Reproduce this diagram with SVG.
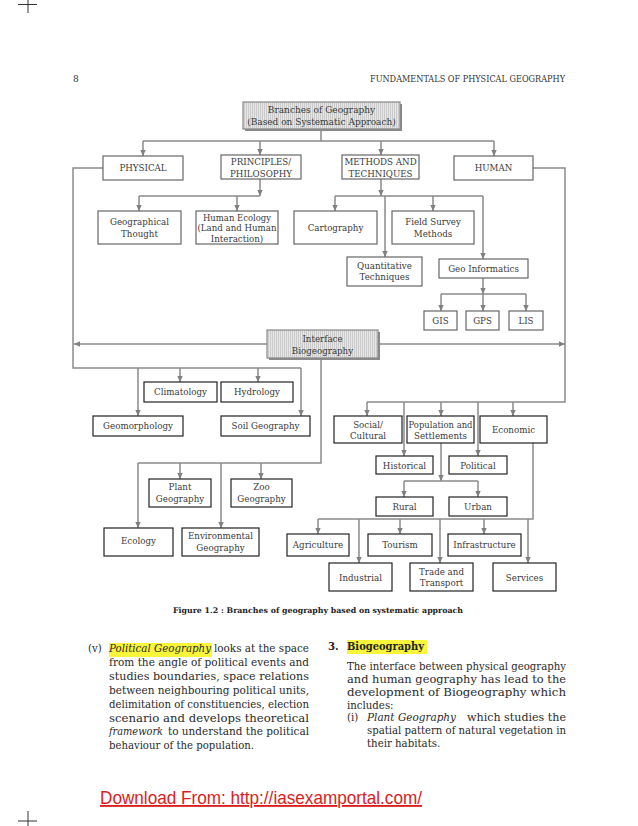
<svg xmlns="http://www.w3.org/2000/svg" width="638" height="826" viewBox="0 0 638 826">
<defs>
<pattern id="hatch" width="2" height="4" patternUnits="userSpaceOnUse">
<rect width="2" height="4" fill="#e6e6e6"/>
<rect width="0.8" height="4" fill="#c4c4c4"/>
</pattern>
<marker id="ah" markerWidth="6" markerHeight="6" refX="6" refY="3" orient="auto" markerUnits="userSpaceOnUse">
<path d="M0,0.3 L6,3 L0,5.7 z" fill="#808080"/>
</marker>
<style>
.bx{fill:#fff;stroke:#666;stroke-width:1.2}
.bk{fill:#fff;stroke:#222;stroke-width:1.2}
.hb{fill:url(#hatch);stroke:#888;stroke-width:1.2}
.sh{fill:#8a8a8a}
.t{font-family:"DejaVu Serif",serif;font-size:8.7px;fill:#3a3a3a;text-anchor:middle}
.c path{fill:none;stroke:#8a8a8a;stroke-width:1.5}
.c .a{marker-end:url(#ah)}
.b{font-family:"DejaVu Serif",serif;font-size:10.2px;fill:#2a2a2a}
.i{font-style:italic}
.crop{stroke:#333;stroke-width:1}
</style>
</defs>
<rect width="638" height="826" fill="#fff"/>
<!-- crop marks -->
<path class="crop" d="M18,4.5 H37 M28,0 V13 M18,821 H37 M28,811 V826"/>
<!-- header -->
<text x="73" y="82" style="font-family:'DejaVu Serif',serif;font-size:9px;fill:#333">8</text>
<text x="370" y="82" textLength="195" lengthAdjust="spacingAndGlyphs" style="font-family:'DejaVu Serif',serif;font-size:8.4px;fill:#333">FUNDAMENTALS OF PHYSICAL GEOGRAPHY</text>

<g class="c" id="connectors">
<path d="M321,129 V141 M143,141 H494"/>
<path class="a" d="M143,141 V156"/>
<path class="a" d="M260,141 V155"/>
<path class="a" d="M381,141 V155"/>
<path class="a" d="M494,141 V156"/>
<path d="M103,168 H73 V368 H301"/>
<path class="a" d="M138,368 V416"/>
<path class="a" d="M180,368 V382"/>
<path class="a" d="M258,368 V382"/>
<path class="a" d="M301,368 V416"/>
<path class="a" d="M267,344 H74"/>
<path class="a" d="M378,344 H565"/>
<path d="M533,168 H565 V402 H367"/>
<path class="a" d="M367,402 V416"/>
<path class="a" d="M441,402 V416"/>
<path class="a" d="M513,402 V416"/>
<path class="a" d="M404,402 V456"/>
<path class="a" d="M478,402 V456"/>
<path class="a" d="M260,179 V196"/>
<path d="M139,196 H260"/>
<path class="a" d="M139,196 V211"/>
<path class="a" d="M237,196 V211"/>
<path class="a" d="M381,179 V196"/>
<path d="M335,196 H483"/>
<path class="a" d="M335,196 V211"/>
<path class="a" d="M385,196 V257"/>
<path class="a" d="M433,196 V211"/>
<path class="a" d="M483,196 V259"/>
<path class="a" d="M483,278 V294"/>
<path d="M441,294 H526"/>
<path class="a" d="M441,294 V311"/>
<path class="a" d="M483,294 V311"/>
<path class="a" d="M526,294 V311"/>
<path d="M321,358 V463 H138"/>
<path class="a" d="M138,463 V528"/>
<path class="a" d="M180,463 V479"/>
<path class="a" d="M221,463 V528"/>
<path class="a" d="M261,463 V479"/>
<path class="a" d="M441,443 V481"/>
<path d="M404,481 H478"/>
<path class="a" d="M404,481 V497"/>
<path class="a" d="M478,481 V497"/>
<path d="M533,443 V519 H318"/>
<path class="a" d="M318,519 V534"/>
<path class="a" d="M359,519 V563"/>
<path class="a" d="M400,519 V534"/>
<path class="a" d="M440,519 V563"/>
<path class="a" d="M484,519 V534"/>
<path class="a" d="M528,519 V563"/>
</g>

<g id="root">
<rect class="sh" x="245" y="104" width="157" height="27"/>
<rect class="hb" x="243" y="102" width="157" height="27"/>
<text class="t" x="321.5" y="113" style="font-size:9px">Branches of Geography</text>
<text class="t" x="321.5" y="124.5" style="font-size:9px">(Based on Systematic Approach)</text>
</g>
<g id="physical"><rect class="bx" x="103" y="156" width="80" height="24"/><text class="t" x="143" y="171">PHYSICAL</text></g>
<g id="principles"><rect class="bx" x="221" y="155" width="80" height="24"/><text class="t" x="261" y="165">PRINCIPLES/</text><text class="t" x="261" y="176.5">PHILOSOPHY</text></g>
<g id="methods"><rect class="bx" x="342" y="155" width="77" height="24"/><text class="t" x="380.5" y="165">METHODS AND</text><text class="t" x="380.5" y="176.5">TECHNIQUES</text></g>
<g id="human"><rect class="bx" x="454" y="156" width="79" height="24"/><text class="t" x="493.5" y="171">HUMAN</text></g>

<g id="geo-thought"><rect class="bx" x="98" y="211" width="83" height="33"/><text class="t" x="139.5" y="225">Geographical</text><text class="t" x="139.5" y="236.5">Thought</text></g>
<g id="human-ecology"><rect class="bx" x="196" y="211" width="82" height="33"/><text class="t" x="237" y="220.5" textLength="68" lengthAdjust="spacingAndGlyphs">Human Ecology</text><text class="t" x="237" y="231" textLength="79" lengthAdjust="spacingAndGlyphs">(Land and Human</text><text class="t" x="237" y="241.5">Interaction)</text></g>
<g id="cartography"><rect class="bx" x="294" y="211" width="83" height="33"/><text class="t" x="335.5" y="231">Cartography</text></g>
<g id="field-survey"><rect class="bx" x="392" y="211" width="82" height="33"/><text class="t" x="433" y="225">Field Survey</text><text class="t" x="433" y="236.5">Methods</text></g>
<g id="quantitative"><rect class="bx" x="347" y="257" width="75" height="29"/><text class="t" x="384.5" y="269">Quantitative</text><text class="t" x="384.5" y="280">Techniques</text></g>
<g id="geo-informatics"><rect class="bx" x="439" y="259" width="89" height="19"/><text class="t" x="483.5" y="271.5">Geo Informatics</text></g>
<g id="gis"><rect class="bx" x="424" y="311" width="33" height="19"/><text class="t" x="440.5" y="323.5">GIS</text></g>
<g id="gps"><rect class="bx" x="466" y="311" width="33" height="19"/><text class="t" x="482.5" y="323.5">GPS</text></g>
<g id="lis"><rect class="bx" x="509" y="311" width="34" height="19"/><text class="t" x="526" y="323.5">LIS</text></g>

<g id="interface">
<rect class="sh" x="269" y="332" width="111" height="28"/>
<rect class="hb" x="267" y="330" width="111" height="28"/>
<text class="t" x="322.5" y="342">Interface</text>
<text class="t" x="322.5" y="353.5">Biogeography</text>
</g>

<g id="climatology"><rect class="bk" x="144" y="382" width="73" height="20"/><text class="t" x="180.5" y="395">Climatology</text></g>
<g id="hydrology"><rect class="bk" x="221" y="382" width="72" height="20"/><text class="t" x="257" y="395">Hydrology</text></g>
<g id="geomorphology"><rect class="bk" x="93" y="416" width="90" height="20"/><text class="t" x="138" y="429">Geomorphology</text></g>
<g id="soil"><rect class="bk" x="221" y="416" width="89" height="20"/><text class="t" x="265.5" y="429">Soil Geography</text></g>

<g id="social"><rect class="bk" x="334" y="416" width="68" height="27"/><text class="t" x="368" y="427.5">Social/</text><text class="t" x="368" y="439">Cultural</text></g>
<g id="population"><rect class="bk" x="407" y="416" width="67" height="27"/><text class="t" x="440.5" y="427.5" textLength="64" lengthAdjust="spacingAndGlyphs">Population and</text><text class="t" x="440.5" y="439">Settlements</text></g>
<g id="economic"><rect class="bk" x="480" y="416" width="67" height="27"/><text class="t" x="513.5" y="433">Economic</text></g>
<g id="historical"><rect class="bk" x="376" y="456" width="57" height="18"/><text class="t" x="404.5" y="468.5">Historical</text></g>
<g id="political"><rect class="bk" x="449" y="456" width="58" height="18"/><text class="t" x="478" y="468.5">Political</text></g>
<g id="rural"><rect class="bk" x="376" y="497" width="57" height="19"/><text class="t" x="404.5" y="509.5">Rural</text></g>
<g id="urban"><rect class="bk" x="449" y="497" width="58" height="19"/><text class="t" x="478" y="509.5">Urban</text></g>

<g id="plant"><rect class="bk" x="149" y="479" width="62" height="28"/><text class="t" x="180" y="490">Plant</text><text class="t" x="180" y="501.5">Geography</text></g>
<g id="zoo"><rect class="bk" x="231" y="479" width="61" height="28"/><text class="t" x="261.5" y="490">Zoo</text><text class="t" x="261.5" y="501.5">Geography</text></g>
<g id="ecology"><rect class="bk" x="104" y="528" width="69" height="28"/><text class="t" x="138.5" y="544">Ecology</text></g>
<g id="environmental"><rect class="bk" x="182" y="528" width="77" height="28"/><text class="t" x="220.5" y="539">Environmental</text><text class="t" x="220.5" y="550.5">Geography</text></g>

<g id="agriculture"><rect class="bk" x="287" y="534" width="62" height="22"/><text class="t" x="318" y="548">Agriculture</text></g>
<g id="tourism"><rect class="bk" x="368" y="534" width="64" height="22"/><text class="t" x="400" y="548">Tourism</text></g>
<g id="infrastructure"><rect class="bk" x="448" y="534" width="73" height="22"/><text class="t" x="484.5" y="548">Infrastructure</text></g>
<g id="industrial"><rect class="bk" x="329" y="563" width="63" height="28"/><text class="t" x="360.5" y="580.5">Industrial</text></g>
<g id="trade"><rect class="bk" x="410" y="563" width="63" height="28"/><text class="t" x="441.5" y="574.5">Trade and</text><text class="t" x="441.5" y="586">Transport</text></g>
<g id="services"><rect class="bk" x="493" y="563" width="63" height="28"/><text class="t" x="524.5" y="580.5">Services</text></g>

<!-- caption -->
<text x="173" y="613" textLength="290" lengthAdjust="spacingAndGlyphs" style="font-family:'DejaVu Serif',serif;font-size:7.8px;font-weight:bold;fill:#222">Figure 1.2 : Branches of geography based on systematic approach</text>

<!-- highlights -->
<rect x="109" y="643" width="103" height="14" fill="#f8f53a"/>
<rect x="347" y="640" width="80" height="14" fill="#f8f53a"/>

<!-- left column -->
<text class="b" x="88" y="652">(v)</text>
<text class="b i" x="109" y="652" textLength="102" lengthAdjust="spacingAndGlyphs">Political Geography</text>
<text class="b" x="214" y="652" textLength="95" lengthAdjust="spacingAndGlyphs">looks at the space</text>
<text class="b" x="109" y="666" textLength="200" lengthAdjust="spacingAndGlyphs">from the angle of political events and</text>
<text class="b" x="109" y="680" textLength="200" lengthAdjust="spacingAndGlyphs">studies boundaries, space relations</text>
<text class="b" x="109" y="694" textLength="200" lengthAdjust="spacingAndGlyphs">between neighbouring political units,</text>
<text class="b" x="109" y="708" textLength="200" lengthAdjust="spacingAndGlyphs">delimitation of constituencies, election</text>
<text class="b" x="109" y="721.5" textLength="200" lengthAdjust="spacingAndGlyphs">scenario and develops theoretical</text>
<text class="b i" x="109" y="735" textLength="54" lengthAdjust="spacingAndGlyphs">framework</text>
<text class="b" x="168" y="735" textLength="141" lengthAdjust="spacingAndGlyphs">to understand the political</text>
<text class="b" x="109" y="749" textLength="145" lengthAdjust="spacingAndGlyphs">behaviour of the population.</text>

<!-- right column -->
<text class="b" x="328" y="650" style="font-weight:bold;fill:#222">3.</text>
<text class="b" x="347" y="650" textLength="77" lengthAdjust="spacingAndGlyphs" style="font-weight:bold;font-size:10.5px;fill:#222">Biogeography</text>
<text class="b" x="347" y="670" textLength="219" lengthAdjust="spacingAndGlyphs">The interface between physical geography</text>
<text class="b" x="347" y="683" textLength="219" lengthAdjust="spacingAndGlyphs">and human geography has lead to the</text>
<text class="b" x="347" y="696" textLength="219" lengthAdjust="spacingAndGlyphs">development of Biogeography which</text>
<text class="b" x="347" y="708.5">includes:</text>
<text class="b" x="347" y="721">(i)</text>
<text class="b i" x="367" y="721" textLength="89" lengthAdjust="spacingAndGlyphs">Plant Geography</text>
<text class="b" x="467" y="721" textLength="99" lengthAdjust="spacingAndGlyphs">which studies the</text>
<text class="b" x="367" y="734" textLength="199" lengthAdjust="spacingAndGlyphs">spatial pattern of natural vegetation in</text>
<text class="b" x="367" y="747">their habitats.</text>

<!-- footer -->
<text x="100" y="804" textLength="322" lengthAdjust="spacingAndGlyphs" text-decoration="underline" style="font-family:'Liberation Sans',Arial,sans-serif;font-size:18.5px;fill:#d81e1e">Download From: http://iasexamportal.com/</text>
</svg>
